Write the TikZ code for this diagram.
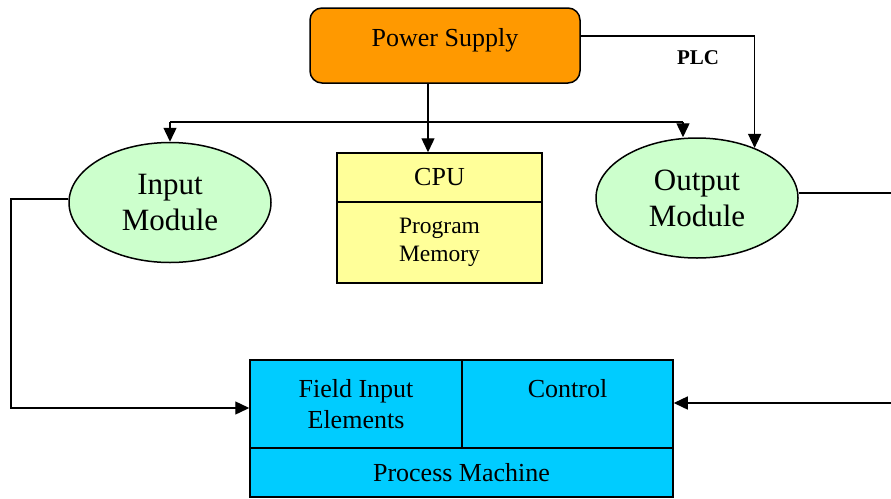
\documentclass[tikz,border=0pt]{standalone}
\usepackage{fontspec}
\setmainfont{Liberation Serif}
\usetikzlibrary{arrows.meta,shapes.geometric,calc}
\definecolor{psorange}{HTML}{FF9900}
\definecolor{modgreen}{HTML}{CCFFCC}
\definecolor{cpuyellow}{HTML}{FFFF99}
\definecolor{pmcyan}{HTML}{00CCFF}
\begin{document}
\begin{tikzpicture}[x=1pt,y=-1pt,
  box/.style={draw=black, line width=1.5pt, inner sep=0pt, align=center, font=\fontsize{26}{31}\selectfont},
  modul/.style={ellipse, draw=black, line width=1.5pt, fill=modgreen, minimum width=202pt, minimum height=120pt, inner sep=0pt, align=center, font=\fontsize{31}{36}\selectfont},
  conn/.style={line width=1.4pt},
  arr/.style={conn, -{Triangle[length=14pt,width=13pt]}}]
\useasboundingbox (0,0) rectangle (891,498);

% nodes
\node[box, rounded corners=12pt, fill=psorange, minimum width=270pt, minimum height=75pt, text depth=16pt] (ps) at (445,45.5) {Power Supply};
\node[inner sep=0pt, font=\fontsize{21}{25}\selectfont\bfseries] (plc) at (698,57.5) {PLC};
\node[modul] (im) at (170,202.5) {Input\\Module};
\node[modul] (om) at (697,198) {Output\\Module};
\node[box, fill=cpuyellow, minimum width=205pt, minimum height=49pt] (cpu) at (439.5,177.5) {CPU};
\node[box, fill=cpuyellow, minimum width=205pt, minimum height=81pt, font=\fontsize{23.5}{28.5}\selectfont] (mem) at (439.5,242.5) {Program\\Memory};
\node[box, fill=pmcyan, minimum width=212pt, minimum height=88pt] (fie) at (356,404) {Field Input\\Elements};
\node[box, fill=pmcyan, minimum width=211pt, minimum height=88pt] (ctl) at (567.5,404) {Control\\\mbox{}};
\node[box, fill=pmcyan, minimum width=423pt, minimum height=49pt] (pm) at (461.5,472.5) {Process Machine};

% coordinates
\coordinate (bl) at (170,122);
\coordinate (br) at (683,122);
\coordinate (lc) at (11,199);
\coordinate (rc1) at (891,193);
\coordinate (rc2) at (891,403);

% connectors
\draw[arr] ([yshift=9.5pt]ps.east) -| (om.41.8);
\draw[arr] ([xshift=-17pt]ps.south) -- ([xshift=-17pt]ps.south |- cpu.north);
\draw[conn] (bl) -- (br);
\draw[arr] (bl) -- (im.north);
\draw[arr] (br) -- (br |- om.north);
\draw[arr] ([yshift=3.5pt]im.west) -- (lc) |- ([yshift=-4pt]fie.west);
\draw[conn] ([yshift=5pt]om.east) -- (rc1);
\draw[arr] (rc2) -- (rc2 -| ctl.east);
\end{tikzpicture}
\end{document}
